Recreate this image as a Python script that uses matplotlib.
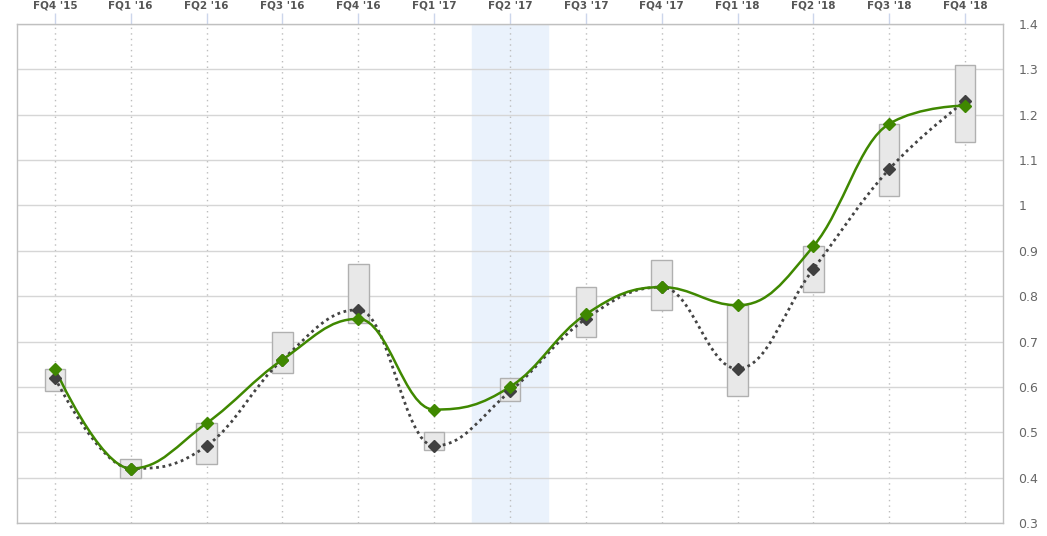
import numpy as np
import matplotlib
matplotlib.use("Agg")
import matplotlib.pyplot as plt
from matplotlib.path import Path
from matplotlib.patches import PathPatch

# quarters along the top axis
quarters = ["FQ4 '15", "FQ1 '16", "FQ2 '16", "FQ3 '16", "FQ4 '16", "FQ1 '17", "FQ2 '17",
            "FQ3 '17", "FQ4 '17", "FQ1 '18", "FQ2 '18", "FQ3 '18", "FQ4 '18"]
# reported (green) and consensus estimate (dark)
actual = [0.64, 0.42, 0.52, 0.66, 0.75, 0.55, 0.60, 0.76, 0.82, 0.78, 0.91, 1.18, 1.22]
estimate = [0.62, 0.42, 0.47, 0.66, 0.77, 0.47, 0.59, 0.75, 0.82, 0.64, 0.86, 1.08, 1.23]
# estimate range (low / high)
est_low = [0.59, 0.40, 0.43, 0.63, 0.74, 0.46, 0.57, 0.71, 0.77, 0.58, 0.81, 1.02, 1.14]
est_high = [0.64, 0.44, 0.52, 0.72, 0.87, 0.50, 0.62, 0.82, 0.88, 0.78, 0.91, 1.18, 1.31]
highlight = "FQ2 '17"
yticks = [0.3, 0.4, 0.5, 0.6, 0.7, 0.8, 0.9, 1.0, 1.1, 1.2, 1.3, 1.4]


def spline_path(xs, ys, smoothing=1.5):
    # Highcharts-style spline: bezier control points with clamping at extremes
    n = len(xs)
    left = [None] * n
    right = [None] * n
    denom = smoothing + 1
    for i in range(n):
        x, y = xs[i], ys[i]
        if i == 0 or i == n - 1:
            left[i] = (x, y)
            right[i] = (x, y)
            continue
        lx, ly = xs[i - 1], ys[i - 1]
        nx, ny = xs[i + 1], ys[i + 1]
        lcx = (smoothing * x + lx) / denom
        lcy = (smoothing * y + ly) / denom
        rcx = (smoothing * x + nx) / denom
        rcy = (smoothing * y + ny) / denom
        corr = ((rcy - lcy) * (rcx - x)) / (rcx - lcx) + y - rcy
        lcy += corr
        rcy += corr
        if lcy > ly and lcy > y:
            lcy = max(ly, y)
            rcy = 2 * y - lcy
        elif lcy < ly and lcy < y:
            lcy = min(ly, y)
            rcy = 2 * y - lcy
        if rcy > ny and rcy > y:
            rcy = max(ny, y)
            lcy = 2 * y - rcy
        elif rcy < ny and rcy < y:
            rcy = min(ny, y)
            lcy = 2 * y - rcy
        left[i] = (lcx, lcy)
        right[i] = (rcx, rcy)
    verts = [(xs[0], ys[0])]
    codes = [Path.MOVETO]
    for i in range(1, n):
        verts += [right[i - 1], left[i], (xs[i], ys[i])]
        codes += [Path.CURVE4] * 3
    return Path(verts, codes)


x = np.arange(len(quarters))

fig = plt.figure(figsize=(10.47, 5.36), dpi=100)
ax = fig.add_axes([0.0162, 0.0243, 0.958 - 0.0162, 0.9552 - 0.0243])

ax.set_xlim(-0.5, len(quarters) - 0.5)
ax.set_ylim(0.3, 1.4)

# highlighted quarter
hi = quarters.index(highlight)
ax.axvspan(hi - 0.5, hi + 0.5, color="#eaf2fc", zorder=0)

# grids
ax.set_yticks(yticks)
ax.yaxis.grid(True, color="#d6d6d6", linewidth=1, zorder=1)
for xi in x:
    ax.axvline(xi, color="#bdbdbd", linestyle=(0, (1, 3)), linewidth=1, zorder=1)

# estimate range boxes
bw = 0.27
for xi, lo, hi_v in zip(x, est_low, est_high):
    ax.add_patch(plt.Rectangle((xi - bw / 2, lo), bw, hi_v - lo, facecolor="#e8e8e8",
                               edgecolor="#b0b0b0", linewidth=1, zorder=2))

# smoothed lines
ax.add_patch(PathPatch(spline_path(x, estimate), facecolor="none", edgecolor="#444444",
                       linewidth=2, linestyle=(0, (1, 1.3)), zorder=3))
ax.add_patch(PathPatch(spline_path(x, actual), facecolor="none", edgecolor="#3f8800",
                       linewidth=1.8, zorder=4))

ax.plot(x, estimate, linestyle="none", marker="D", markersize=6.5, color="#404040", zorder=5)
ax.plot(x, actual, linestyle="none", marker="D", markersize=6.5, color="#3f8800", zorder=6)

# axes styling
for s in ax.spines.values():
    s.set_color("#c0c0c0")
    s.set_linewidth(1)

ax.set_xticks(x)
ax.set_xticklabels(quarters, fontsize=7.5, fontweight="bold", color="#555555")
ax.xaxis.tick_top()
ax.tick_params(axis="x", length=8, width=1, color="#ccd6eb", pad=1.5)

ax.yaxis.tick_right()
ax.set_yticklabels(["{:g}".format(v) for v in yticks], fontsize=9, color="#666666")
ax.tick_params(axis="y", length=0, pad=11)

fig.savefig("out.png", dpi=100)
